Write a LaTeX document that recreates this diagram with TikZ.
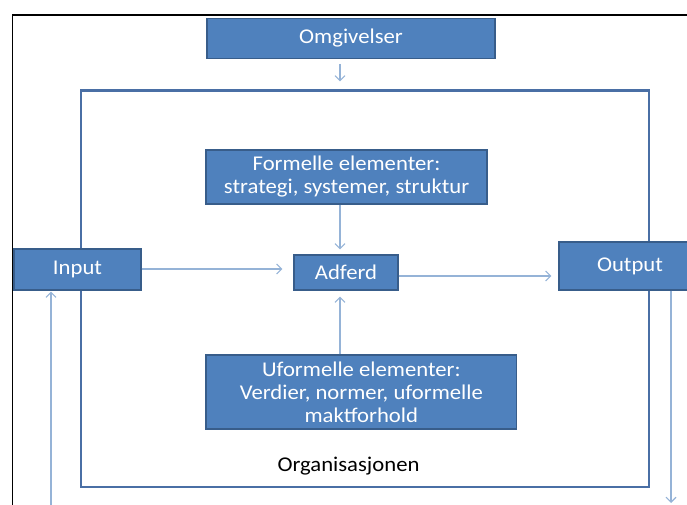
\documentclass[tikz,border=0pt]{standalone}
\usepackage{fontspec}
\setmainfont{Carlito}[FakeStretch=1.08]
\usetikzlibrary{arrows.meta}
\definecolor{boxfill}{HTML}{4F81BD}
\definecolor{boxline}{HTML}{385D8A}
\definecolor{orgline}{HTML}{4A6FA5}
\definecolor{arrline}{HTML}{95B3D7}
\tikzset{
  bluebox/.style={draw=boxline, line width=1.3pt, fill=boxfill, text=white, inner sep=0pt, align=center, font=\fontsize{21}{23}\selectfont},
  orgbox/.style={draw=orgline, line width=2.2pt, inner sep=0pt},
  arr/.style={draw=arrline, line width=1.2pt, -{Straight Barb[length=5pt,width=10pt,line width=1.1pt]}},
  lbl/.style={inner sep=0pt, font=\fontsize{21}{23}\selectfont}
}
\begin{document}
\begin{tikzpicture}[x=1pt,y=-1pt]
\useasboundingbox (0,0) rectangle (687,504);
% outer black frame
\draw[black, line width=1.5pt] (12.3,510) -- (12.3,15) -- (700,15);
% organisation rectangle
\node[orgbox, minimum width=568.3pt, minimum height=396.5pt] (org) at (364.8,288.8) {};
\node[lbl] (orgl) at (348.5,466) {Organisasjonen};
% boxes
\node[bluebox, minimum width=288pt, minimum height=40pt] (omg) at (351,38.2) {Omgivelser};
\node[bluebox, minimum width=281pt, minimum height=54pt] (form) at (346.5,177) {Formelle elementer:\\strategi, systemer, struktur};
\node[bluebox, minimum width=104pt, minimum height=35pt] (adf) at (346,272.5) {Adferd};
\node[bluebox, minimum width=127pt, minimum height=41pt] (inp) at (77.5,269.5) {Input};
\node[bluebox, minimum width=142pt, minimum height=48pt] (out) at (630,266) {Output};
\node[bluebox, minimum width=310.7pt, minimum height=74pt] (uf) at (361.3,392) {Uformelle elementer:\\Verdier, normer, uformelle\\maktforhold};
% free ends
\coordinate (lb) at (51,510);
\coordinate (rb) at (671,503);
% connectors
\draw[arr, shorten <=5pt, shorten >=8pt] ([xshift=-11pt]omg.south) -- ([xshift=-11pt]omg.south |- org.north);
\draw[arr, shorten >=5pt] ([xshift=-6.5pt]form.south) -- ([xshift=-6pt]adf.north);
\draw[arr, shorten >=6pt] ([xshift=-6pt]adf.south |- uf.north) -- ([xshift=-6pt]adf.south);
\draw[arr, shorten >=11pt] ([yshift=0.5pt]inp.east) -- ([yshift=0.5pt]inp.east -| adf.west);
\draw[arr, shorten >=7pt] ([yshift=-3.5pt]adf.east) -- ([yshift=-3.5pt]adf.east -| out.west);
\draw[arr, shorten >=1pt] (lb) -- (lb |- inp.south);
\draw[arr] (rb |- out.south) -- (rb);
\end{tikzpicture}
\end{document}
